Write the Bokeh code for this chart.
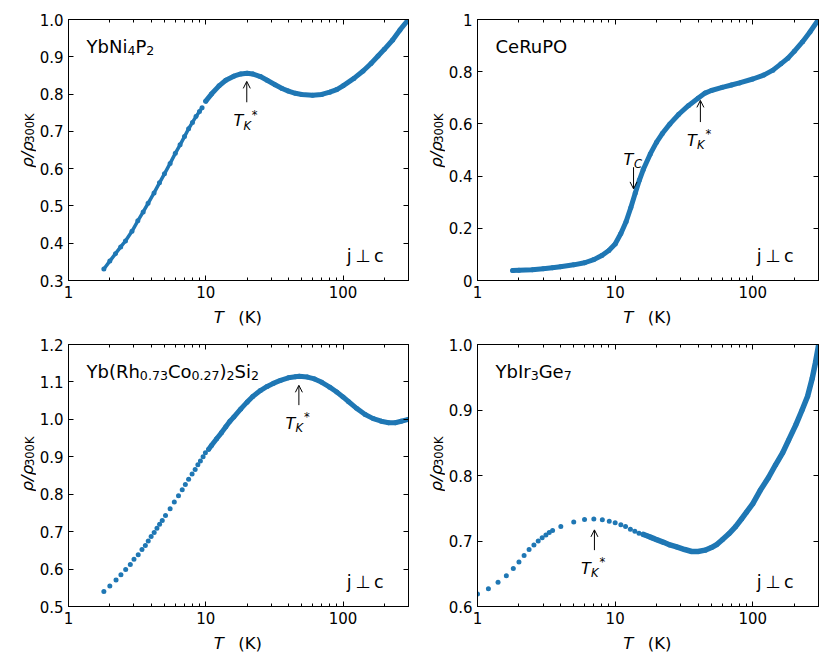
import math
from bokeh.plotting import figure
from bokeh.models import (Range1d, FixedTicker, LinearAxis, LogAxis, Label, Arrow,
                          OpenHead, CustomJSTickFormatter)
from bokeh.layouts import column, row
from bokeh.embed import file_html
from bokeh.resources import INLINE

BLUE = "#1f77b4"
FONT = "DejaVu Sans"

# ---------------- data ----------------
# Panel 1: YbNi4P2
T1_lo = [1.81, 2.0, 2.2, 2.4, 2.6, 2.9, 3.2, 3.5, 3.8, 4.2, 4.6, 5.0, 5.5, 6.0, 6.5,
         7.0, 7.5, 8.0, 8.5, 9.0, 9.4]
R1_lo = [0.331, 0.352, 0.372, 0.390, 0.406, 0.432, 0.460, 0.484, 0.507, 0.535, 0.562,
         0.586, 0.614, 0.641, 0.664, 0.686, 0.707, 0.724, 0.740, 0.753, 0.763]
T1_hi = [10, 11, 12.5, 14, 16, 18, 20, 22, 25, 28, 32, 36, 40, 45, 50, 60, 70, 80, 90,
         100, 120, 140, 160, 180, 200, 230, 260, 300]
R1_hi = [0.781, 0.800, 0.822, 0.837, 0.848, 0.854, 0.856, 0.854, 0.847, 0.837, 0.825,
         0.815, 0.808, 0.802, 0.799, 0.797, 0.799, 0.805, 0.812, 0.822, 0.842, 0.862,
         0.882, 0.902, 0.920, 0.945, 0.972, 1.0]

# Panel 2: CeRuPO
T2_hi = [1.8, 2.0, 2.5, 3.0, 3.5, 4.0, 5.0, 6.0, 7.0, 8.0, 9.0, 10.0, 11.0, 12.0, 13.0,
         14.0, 15.0, 16.0, 18.0, 20.0, 22.0, 25.0, 29.0, 34.0, 40.0, 45.0, 50.0, 60.0,
         70.0, 80.0, 100.0, 120.0, 140.0, 160.0, 180.0, 200.0, 230.0, 260.0, 300.0]
R2_hi = [0.038, 0.039, 0.041, 0.045, 0.049, 0.053, 0.060, 0.068, 0.080, 0.096, 0.115,
         0.140, 0.180, 0.225, 0.280, 0.335, 0.385, 0.425, 0.485, 0.530, 0.563, 0.600,
         0.637, 0.670, 0.698, 0.718, 0.728, 0.740, 0.749, 0.757, 0.772, 0.787, 0.806,
         0.830, 0.852, 0.878, 0.915, 0.952, 1.0]

# Panel 3: Yb(Rh0.73Co0.27)2Si2
T3_lo = [1.81, 2.0, 2.22, 2.41, 2.61, 2.82, 3.0, 3.22, 3.43, 3.63, 3.81, 4.0, 4.21, 4.41,
         4.61, 4.82, 5.09, 5.5, 5.9, 6.33, 6.74, 7.1, 7.5, 7.95, 8.37, 8.76, 9.14, 9.56, 9.94]
R3_lo = [0.540, 0.555, 0.571, 0.585, 0.599, 0.612, 0.626, 0.638, 0.652, 0.663, 0.675,
         0.687, 0.698, 0.709, 0.720, 0.730, 0.743, 0.761, 0.779, 0.796, 0.812, 0.826,
         0.840, 0.854, 0.866, 0.879, 0.889, 0.900, 0.911]
T3_hi = [10.5, 11, 12, 13, 14, 15, 16, 18, 20, 22, 25, 28, 31, 35, 40, 45, 48, 55, 62, 70,
         80, 90, 100, 110, 125, 145, 166, 190, 215, 240, 265, 300]
R3_hi = [0.920, 0.930, 0.948, 0.964, 0.980, 0.995, 1.006, 1.028, 1.046, 1.061, 1.077,
         1.088, 1.096, 1.104, 1.111, 1.114, 1.115, 1.113, 1.108, 1.099, 1.086, 1.073,
         1.060, 1.047, 1.030, 1.013, 1.002, 0.995, 0.991, 0.991, 0.995, 1.0]

# Panel 4: YbIr3Ge7
T4_lo = [1.0, 1.2, 1.41, 1.62, 1.82, 2.0, 2.18, 2.37, 2.57, 2.76, 2.95, 3.14, 3.32, 3.51,
         4.03, 5.0, 5.99, 7.0, 8.07, 9.06, 10.0, 11.0, 11.9, 12.9, 13.9, 14.9]
R4_lo = [0.619, 0.627, 0.637, 0.647, 0.658, 0.668, 0.678, 0.687, 0.694, 0.700, 0.705,
         0.709, 0.713, 0.716, 0.722, 0.729, 0.733, 0.7335, 0.7325, 0.730, 0.728, 0.725,
         0.722, 0.718, 0.715, 0.712]
T4_hi = [16, 17, 18, 19, 20, 22.5, 25, 28, 32, 36, 40, 45, 50, 55, 60, 67, 75, 83, 90,
         100, 113, 130, 146, 165, 182, 205, 228, 250, 270, 285, 300]
R4_hi = [0.710, 0.708, 0.706, 0.704, 0.702, 0.698, 0.694, 0.691, 0.687, 0.684, 0.684,
         0.686, 0.690, 0.695, 0.702, 0.711, 0.722, 0.734, 0.744, 0.757, 0.777, 0.797,
         0.816, 0.835, 0.854, 0.877, 0.900, 0.921, 0.948, 0.972, 0.998]

# tick values / labels
X_TICKS = [1, 10, 100]
X_MINOR = [2, 3, 4, 5, 6, 7, 8, 9, 20, 30, 40, 50, 60, 70, 80, 90, 200, 300]
Y1_TICKS = [0.3, 0.4, 0.5, 0.6, 0.7, 0.8, 0.9, 1.0]
Y2_TICKS = [0.0, 0.2, 0.4, 0.6, 0.8, 1.0]
Y3_TICKS = [0.5, 0.6, 0.7, 0.8, 0.9, 1.0, 1.1, 1.2]
Y4_TICKS = [0.6, 0.7, 0.8, 0.9, 1.0]

# -------------------- helpers --------------------
WID = {' ': 0.318, '(': 0.390, ')': 0.390, '.': 0.318, 'C': 0.698, 'G': 0.775, 'I': 0.295,
       'K': 0.656, 'N': 0.748, 'O': 0.787, 'P': 0.603, 'R': 0.695, 'S': 0.635, 'T': 0.611,
       'Y': 0.611, 'b': 0.635, 'c': 0.550, 'e': 0.615, 'h': 0.634, 'i': 0.278, 'j': 0.278,
       'o': 0.612, 'r': 0.411, 'u': 0.634, 'ρ': 0.635, '/': 0.337}
for _d in "0123456789":
    WID[_d] = 0.636


def tw(s, size):
    return sum(WID.get(ch, 0.6) for ch in s) * size


LOGMAX = math.log10(300.0)


def mk_label(s, x, y, size, style="normal", align="left", angle=0.0):
    return Label(x=x, y=y, text=s, angle=angle, text_font=FONT,
                 text_font_size=f"{size}px", text_font_style=style, text_color="black",
                 text_align=align, text_baseline="alphabetic")


class Blank:
    """A plain canvas (no axes) whose data units are its own pixels."""

    def __init__(self, w, h, ox, oy):
        self.w, self.h, self.ox, self.oy = w, h, ox, oy
        f = figure(width=w, height=h, x_range=Range1d(0, w), y_range=Range1d(0, h),
                   output_backend="svg", toolbar_location=None,
                   x_axis_location=None, y_axis_location=None, min_border=0)
        f.outline_line_color = None
        f.xgrid.visible = False
        f.ygrid.visible = False
        f.background_fill_color = "white"
        f.border_fill_color = "white"
        self.p = f

    def text(self, s, page_x, page_y, size, style="normal", align="left", angle=0.0):
        self.p.add_layout(mk_label(s, page_x - self.ox, self.h - (page_y - self.oy),
                                   size, style, align, angle))


class Panel:
    def __init__(self, y0, y1, yticks, ox, oy, bl, fw, br, bt, fh, bb, ylabel_fmt):
        self.y0, self.y1 = y0, y1
        self.fw, self.fh = fw, fh
        self.fl = ox + bl        # frame left, page px
        self.ft = oy + bt        # frame top, page px
        p = figure(width=bl + fw + br, height=bt + fh + bb, x_axis_type="log",
                   x_range=Range1d(1, 300), y_range=Range1d(y0, y1),
                   output_backend="svg", toolbar_location=None,
                   min_border_left=bl, min_border_right=br,
                   min_border_top=bt, min_border_bottom=bb)
        p.xgrid.visible = False
        p.ygrid.visible = False
        p.outline_line_color = "black"
        p.outline_line_width = 1
        p.background_fill_color = "white"
        p.border_fill_color = "white"
        xt = FixedTicker(ticks=X_TICKS, minor_ticks=X_MINOR)
        yt = FixedTicker(ticks=yticks, minor_ticks=[])
        xfmt = CustomJSTickFormatter(code="return String(Math.round(tick));")
        yfmt = CustomJSTickFormatter(code=ylabel_fmt)
        blank = CustomJSTickFormatter(code="return '';")
        p.xaxis[0].ticker = xt
        p.xaxis[0].formatter = xfmt
        p.yaxis[0].ticker = yt
        p.yaxis[0].formatter = yfmt
        p.add_layout(LinearAxis(ticker=yt, formatter=blank), "right")
        p.add_layout(LogAxis(ticker=xt, formatter=blank), "above")
        for ax in p.axis:
            ax.axis_line_color = "black"
            ax.axis_line_width = 1
            ax.major_tick_in = 5
            ax.major_tick_out = 0
            ax.minor_tick_in = 3
            ax.minor_tick_out = 0
            ax.major_tick_line_color = "black"
            ax.minor_tick_line_color = "black"
            ax.major_label_text_font = FONT
            ax.major_label_text_font_size = "15px"
            ax.major_label_text_color = "black"
            ax.major_label_standoff = 5
        for ax in p.right + p.above:
            ax.major_label_text_font_size = "0px"
            ax.major_label_standoff = 0
        self.p = p

    # frame-relative pixel (y downward from frame top) <-> data
    def dx(self, px):
        return 10 ** (LOGMAX * px / self.fw)

    def dy(self, py):
        return self.y1 - py * (self.y1 - self.y0) / self.fh

    def px(self, x):
        return math.log10(x) / LOGMAX * self.fw

    def py(self, y):
        return (self.y1 - y) / (self.y1 - self.y0) * self.fh

    def text(self, s, px, py, size, style="normal", align="left"):
        self.p.add_layout(mk_label(s, self.dx(px), self.dy(py), size, style, align))

    def rich(self, pieces, px, py, size=18.0):
        x = px
        sub = size * 0.7
        for s, kind in pieces:
            if kind == "n":
                self.text(s, x, py, size)
                x += tw(s, size)
            else:
                self.text(s, x, py + 4.0, sub)
                x += tw(s, sub)

    def inner_texts(self, pieces):
        self.rich(pieces, 18, 27)
        self.text("j\u2009⊥\u2009c", self.fw - 25, self.fh - 25, 17.5, align="right")

    def ylabel(self, blank):
        start = self.ft + self.fh / 2 + 23.2
        base = self.fl - 41
        blank.text("ρ/ρ", base, start, 16.5, style="italic", angle=math.pi / 2)
        blank.text("300K", base + 2, start - tw("ρ/ρ", 16.5) - 2.5, 11.5, angle=math.pi / 2)

    def xlabel(self, blank):
        cx = self.fl + self.fw / 2
        by = self.ft + self.fh + 36.7
        blank.text("T", cx - 24.7, by, 16.5, style="italic")
        blank.text("(K)", cx - 0.3, by, 16.5)

    def arrow(self, x, y_from, y_to):
        self.p.add_layout(Arrow(end=OpenHead(size=7, line_width=1, line_color="black"),
                                x_start=x, y_start=y_from, x_end=x, y_end=y_to,
                                line_width=1, line_color="black"))

    def tk(self, x, tip, base):
        self.arrow(x, base, tip)
        ax, by = self.px(x), self.py(base)
        self.text("T", ax - 13.4, by + 18.3, 16, style="italic")
        self.text("K", ax - 3.4, by + 23.3, 11.5, style="italic")
        self.text("*", ax + 5.0, by + 12.3, 11.5)

    def curve(self, T, R, lw):
        self.p.line(T, R, line_color=BLUE, line_width=lw, line_join="round", line_cap="round")
        self.p.scatter(T, R, size=5, fill_color=BLUE, line_color=BLUE, line_width=0)

    def dots(self, T, R):
        self.p.scatter(T, R, size=5, fill_color=BLUE, line_color=BLUE, line_width=0)


FMT1 = "return tick.toFixed(1);"
FMT2 = "var s = tick.toFixed(1); return (s == '0.0') ? '0' : ((s == '1.0') ? '1' : s);"

# geometry (page px): left column figures x 0..411, right column x 411..822
YL1_W, YL2_W = 36, 34
TOP_H, BOT_H, XL_H = 304, 300, 26

# Panel 1
a = Panel(0.3, 1.0, Y1_TICKS, YL1_W, 0, 32, 340, 3, 19, 261, 24, FMT1)
a.curve(T1_lo, R1_lo, 3.5)
a.curve(T1_hi, R1_hi, 5)
a.inner_texts([("YbNi", "n"), ("4", "s"), ("P", "n"), ("2", "s")])
a.tk(19.9, 0.834, 0.778)

# Panel 2
b = Panel(0.0, 1.0, Y2_TICKS, 411 + YL2_W, 0, 32, 341, 4, 19, 261, 24, FMT2)
b.curve(T2_hi, R2_hi, 5)
b.inner_texts([("CeRuPO", "n")])
b.tk(41.6, 0.690, 0.607)
b.arrow(13.6, 0.434, 0.351)
_ax, _by = b.px(13.6), b.py(0.434)
b.text("T", _ax - 10.0, _by - 7.4, 16, style="italic")
b.text("C", _ax + 0.5, _by - 3.4, 11.5, style="italic")

# Panel 3
y3 = TOP_H + XL_H
c = Panel(0.5, 1.2, Y3_TICKS, YL1_W, y3, 32, 340, 3, 14, 262, 24, FMT1)
c.dots(T3_lo, R3_lo)
c.curve(T3_hi, R3_hi, 5)
c.inner_texts([("Yb(Rh", "n"), ("0.73", "s"), ("Co", "n"), ("0.27", "s"), (")", "n"),
               ("2", "s"), ("Si", "n"), ("2", "s")])
c.tk(47.7, 1.091, 1.038)

# Panel 4
d = Panel(0.6, 1.0, Y4_TICKS, 411 + YL2_W, y3, 32, 341, 4, 14, 262, 24, FMT1)
d.dots(T4_lo, R4_lo)
d.curve(T4_hi, R4_hi, 5.5)
d.inner_texts([("YbIr", "n"), ("3", "s"), ("Ge", "n"), ("7", "s")])
d.tk(7.07, 0.717, 0.686)

# axis-title canvases
yl1 = Blank(YL1_W, TOP_H, 0, 0)
yl2 = Blank(YL2_W, TOP_H, 411, 0)
yl3 = Blank(YL1_W, BOT_H, 0, y3)
yl4 = Blank(YL2_W, BOT_H, 411, y3)
xl1 = Blank(411, XL_H, 0, TOP_H)
xl2 = Blank(411, XL_H, 411, TOP_H)
xl3 = Blank(411, XL_H, 0, y3 + BOT_H)
xl4 = Blank(411, XL_H, 411, y3 + BOT_H)
for pan, yl, xl in ((a, yl1, xl1), (b, yl2, xl2), (c, yl3, xl3), (d, yl4, xl4)):
    pan.ylabel(yl)
    pan.xlabel(xl)

cell1 = column(row(yl1.p, a.p), xl1.p)
cell2 = column(row(yl2.p, b.p), xl2.p)
cell3 = column(row(yl3.p, c.p), xl3.p)
cell4 = column(row(yl4.p, d.p), xl4.p)
layout = column(row(cell1, cell2), row(cell3, cell4))
open("out.html", "w").write(file_html(layout, INLINE))
